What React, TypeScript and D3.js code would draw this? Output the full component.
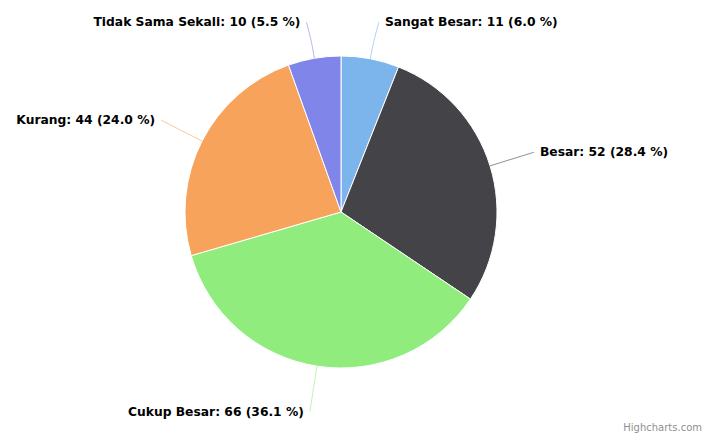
import * as d3 from "d3";

const categories = ["Sangat Besar", "Besar", "Cukup Besar", "Kurang", "Tidak Sama Sekali"];
const counts = [11, 52, 66, 44, 10];
const percents = ["6.0", "28.4", "36.1", "24.0", "5.5"];

const colors = ["#7cb5ec", "#434348", "#90ed7d", "#f7a35c", "#8085e9"];

const width = 720;
const height = 435;
const cx = 341;
const cy = 212;
const radius = 156;
const labelDistance = 46;
const topLimit = 22;

const App = () => {
  const pie = d3.pie<number>().sort(null).value((d) => d);
  const arcs = pie(counts);
  const arc = d3.arc<d3.PieArcDatum<number>>().innerRadius(0).outerRadius(radius);

  const labels = arcs.map((a, i) => {
    const mid = (a.startAngle + a.endAngle) / 2;
    const sin = Math.sin(mid);
    const cos = Math.cos(mid);
    const right = sin >= 0;
    // label anchor, pushed down if it falls off the top
    const lx = cx + (radius + labelDistance) * sin;
    const ly = Math.max(topLimit, cy - (radius + labelDistance) * cos);
    // break of the connector and base on the slice edge
    const bx = cx + (radius + 10) * sin;
    const by = cy - (radius + 10) * cos;
    const px = cx + radius * sin;
    const py = cy - radius * cos;
    const sx = lx + (right ? 0 : 0);
    const path = `M${sx},${ly}C${sx},${ly} ${2 * bx - px},${2 * by - py} ${bx},${by}L${px},${py}`;
    return {
      path,
      tx: lx + (right ? 6 : -6),
      ty: ly,
      anchor: right ? "start" : "end",
      text: `${categories[i]}: ${counts[i]} (${percents[i]} %)`,
      color: colors[i],
    };
  });

  return (
    <svg
      width={width}
      height={height}
      style={{ position: "absolute", left: 0, top: 0, background: "#fff" }}
      fontFamily="'DejaVu Sans', sans-serif"
    >
      <g transform={`translate(${cx},${cy})`}>
        {arcs.map((a, i) => (
          <path key={categories[i]} d={arc(a) || ""} fill={colors[i]} stroke="#fff" strokeWidth={1} strokeLinejoin="round" />
        ))}
      </g>
      {labels.map((l) => (
        <g key={l.text}>
          <path d={l.path} fill="none" stroke={l.color} strokeWidth={1} opacity={0.6} />
          <text
            x={l.tx}
            y={l.ty}
            textAnchor={l.anchor}
            dominantBaseline="central"
            fontSize={12.3}
            fontWeight="bold"
            fill="#000"
          >
            {l.text}
          </text>
        </g>
      ))}
      <text x={702} y={427} textAnchor="end" dominantBaseline="central" fontSize={10} fill="#909090">
        Highcharts.com
      </text>
    </svg>
  );
};

export default App;
